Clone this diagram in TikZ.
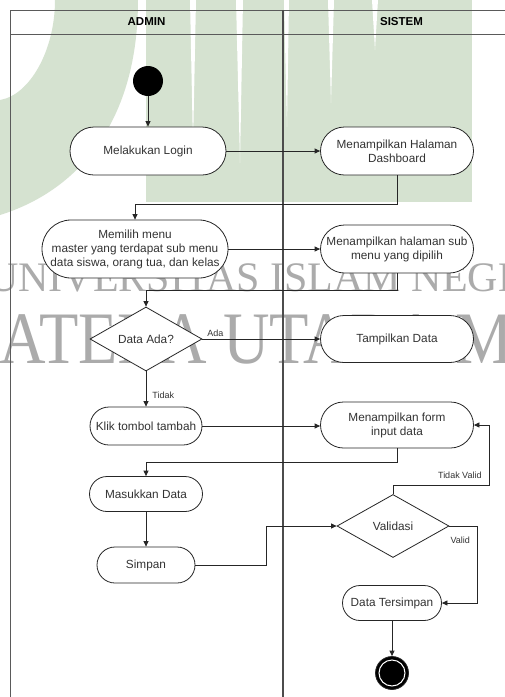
\documentclass[tikz,border=0pt]{standalone}
\usepackage{fontspec}
\setmainfont{Liberation Sans}
\newfontfamily\wmfont{Liberation Serif}
\usetikzlibrary{shapes.geometric,arrows.meta}
\definecolor{wmgreen}{HTML}{D5E2D0}
\definecolor{wmgray}{HTML}{ABABAB}
\definecolor{ink}{HTML}{333333}
\definecolor{lane}{HTML}{5A5A5A}

\begin{document}
\begin{tikzpicture}[x=1pt,y=-1pt,
  act/.style={rectangle, draw=black!85, fill=white, line width=0.8pt, text=ink,
    align=center, inner sep=2pt, font=\fontsize{11.8}{14}\selectfont},
  cond/.style={diamond, shape aspect=1.75, draw=black!85, fill=white, line width=0.8pt,
    text=ink, inner sep=1pt, minimum width=112pt, minimum height=64pt,
    font=\fontsize{11.8}{14}\selectfont},
  flow/.style={draw=black!85, line width=0.8pt, -{Triangle[length=5.5pt,width=5pt]}},
  lbl/.style={text=ink, inner sep=0pt, font=\fontsize{9}{10}\selectfont},
  lanehead/.style={text=black, font=\bfseries\fontsize{11.5}{13}\selectfont},
  wmtext/.style={text=wmgray, inner sep=0pt, anchor=base west},
]
\useasboundingbox (0,0) rectangle (505,697);
\fill[white] (0,0) rectangle (505,697);

% background watermark
\begin{scope}
  \clip (0,0) rectangle (505,697);
  \fill[wmgreen] (55,0) -- (138,0) .. controls (138,120) and (80,190) .. (0,215)
    -- (0,100) .. controls (30,95) and (55,50) .. (55,0) -- cycle;
  \fill[wmgreen] (146,0) rectangle (472,202);
  \fill[white] (190,0) -- (196,0) -- (193,147) -- cycle;
  \fill[white] (236,0) -- (243,0) -- (240,163) -- cycle;
  \fill[white] (284,0) -- (289,0) -- (287,127) -- cycle;
  \fill[white] (328,0) -- (334,0) -- (331,103) -- cycle;
  \fill[white] (372,0) -- (378,0) -- (375,50) -- cycle;
  \node[wmtext, font=\wmfont\fontsize{42}{42}\selectfont] (wmA) at (-12,291) {UNIVERSITAS ISLAM NEGERI};
  \node[wmtext, xscale=0.87, font=\wmfont\fontsize{74}{74}\selectfont] (wmB) at (-140,363) {SUMATERA UTARA MEDAN};
\end{scope}

% swimlanes
\draw[lane, line width=0.8pt] (10,697) -- (10,10) -- (505,10);
\draw[lane, line width=0.8pt] (10,34) -- (505,34);
\draw[lane!85!black, line width=1.8pt] (283,10) -- (283,697);
\node[lanehead] (hAdmin) at (146.5,22) {ADMIN};
\node[lanehead] (hSistem) at (401.5,22) {SISTEM};

% activities
\node[circle, fill=black, minimum size=30pt, inner sep=0pt] (start) at (148,81) {};
\node[act, minimum width=156pt, minimum height=48pt, rounded corners=24pt] (login) at (148,151) {Melakukan Login};
\node[act, minimum width=153pt, minimum height=48pt, rounded corners=24pt] (dash) at (397,151) {Menampilkan Halaman\\Dashboard};
\node[act, minimum width=186pt, minimum height=58pt, rounded corners=29pt, inner sep=0pt] (menu) at (135,249) {Memilih menu\\master yang terdapat sub menu\\data siswa, orang tua, dan kelas};
\node[act, minimum width=153pt, minimum height=48pt, rounded corners=24pt] (sub) at (397,249) {Menampilkan halaman sub\\menu yang dipilih};
\node[cond] (ada) at (146,339) {Data Ada?};
\node[act, minimum width=153pt, minimum height=47pt, rounded corners=23.5pt] (tampil) at (397,339) {Tampilkan Data};
\node[act, minimum width=112pt, minimum height=38pt, rounded corners=19pt] (klik) at (146,426) {Klik tombol tambah};
\node[act, minimum width=153pt, minimum height=46pt, rounded corners=23pt] (form) at (397,425) {Menampilkan form\\input data};
\node[act, minimum width=113pt, minimum height=35pt, rounded corners=17.5pt] (masuk) at (146,494) {Masukkan Data};
\node[act, minimum width=98pt, minimum height=36pt, rounded corners=18pt] (simpan) at (146,565) {Simpan};
\node[cond, minimum height=63pt] (valid) at (393,526) {Validasi};
\node[act, minimum width=99pt, minimum height=35pt, rounded corners=17.5pt] (saved) at (392,603) {Data Tersimpan};
\node[circle, fill=black, draw=black!85, line width=0.8pt, minimum size=33pt, inner sep=0pt] (end) at (392,673) {};
\draw[white, line width=1pt] (end.center) circle[radius=13pt];

% flows
\draw[flow] (start) -- (login);
\draw[flow] (login) -- (dash);
\draw[flow] (dash.south) -- ++(0,29) -| (menu.north);
\draw[flow] (menu.east) -- (sub.west);
\draw[flow] (sub.south) -- ++(0,17) -| (ada.north);
\draw[flow] (ada.east) -- node[lbl, above, pos=0.11, yshift=2pt] {Ada} (tampil.west);
\draw[flow] (ada.south) -- node[lbl, right, pos=0.67, xshift=6pt] {Tidak} (klik.north);
\draw[flow] (klik.east) -- (klik.east -| form.west);
\draw[flow] (form.south) -- ++(0,14) -| (masuk.north);
\draw[flow] (masuk) -- (simpan);
\draw[flow] (simpan.east) -- ++(71,0) |- (valid.west);
\draw[flow] (valid.north) -- ++(0,-9) -- ++(96,0)
  node[lbl, anchor=south east, xshift=-7pt, yshift=6pt] {Tidak Valid} |- (form.east);
\draw[flow] (valid.east) -- ++(28,0)
  node[lbl, anchor=north east, xshift=-7pt, yshift=-11pt] {Valid} |- (saved.east);
\draw[flow] (saved) -- (end);
\end{tikzpicture}
\end{document}
